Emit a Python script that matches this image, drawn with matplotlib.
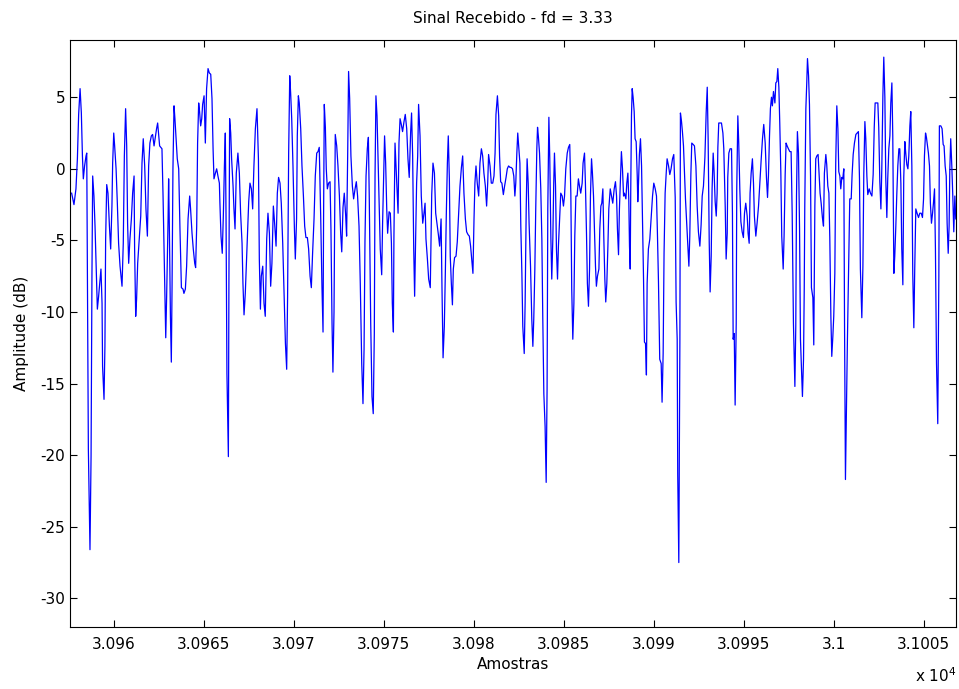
import matplotlib
matplotlib.use('Agg')
import matplotlib.pyplot as plt
from matplotlib.ticker import FuncFormatter
import numpy as np

# amostras (x) e amplitude em dB (y)
amostras = [
    30957.65, 30957.78, 30957.89, 30957.97, 30958.04, 30958.12, 30958.19, 30958.25, 30958.30, 30958.37,
    30958.45, 30958.49, 30958.52, 30958.58, 30958.67, 30958.73, 30958.78, 30958.82, 30958.89, 30958.95,
    30959.00, 30959.08, 30959.15, 30959.23, 30959.28, 30959.34, 30959.37, 30959.45, 30959.50, 30959.54,
    30959.60, 30959.67, 30959.75, 30959.82, 30959.89, 30959.93, 30959.99, 30960.04, 30960.12, 30960.19,
    30960.26, 30960.34, 30960.45, 30960.52, 30960.58, 30960.65, 30960.71, 30960.76, 30960.82, 30960.89,
    30960.97, 30961.04, 30961.12, 30961.15, 30961.21, 30961.26, 30961.32, 30961.39, 30961.49, 30961.56,
    30961.63, 30961.71, 30961.78, 30961.86, 30961.93, 30962.00, 30962.08, 30962.15, 30962.23, 30962.30,
    30962.37, 30962.43,
    30962.54, 30962.67, 30962.73, 30962.82, 30962.88, 30962.93, 30963.01, 30963.04, 30963.08, 30963.14,
    30963.19, 30963.23, 30963.28, 30963.34, 30963.39, 30963.47, 30963.52, 30963.60, 30963.67, 30963.75,
    30963.84, 30963.89, 30963.97, 30964.04, 30964.12, 30964.21, 30964.26, 30964.34, 30964.41, 30964.49,
    30964.54, 30964.60, 30964.65, 30964.71, 30964.76, 30964.82, 30964.88, 30964.93, 30965.01, 30965.08,
    30965.15, 30965.23, 30965.30, 30965.38, 30965.45, 30965.51, 30965.56, 30965.64, 30965.71, 30965.78,
    30965.86, 30965.89, 30965.95, 30966.02, 30966.08, 30966.14, 30966.19, 30966.23, 30966.28, 30966.36,
    30966.39, 30966.43, 30966.49, 30966.54, 30966.62, 30966.67, 30966.73, 30966.80, 30966.89, 30966.97,
    30967.04, 30967.12, 30967.17, 30967.23, 30967.30,
    30967.41, 30967.49, 30967.56, 30967.64, 30967.71, 30967.78, 30967.86, 30967.95, 30968.03, 30968.08,
    30968.14, 30968.19, 30968.27, 30968.34, 30968.41, 30968.49, 30968.56, 30968.64, 30968.71, 30968.78,
    30968.86, 30968.93, 30969.01, 30969.08, 30969.15, 30969.23, 30969.30, 30969.38, 30969.45, 30969.53,
    30969.60, 30969.65, 30969.71, 30969.77, 30969.82, 30969.88, 30969.95, 30970.03, 30970.08, 30970.15,
    30970.19, 30970.25, 30970.30, 30970.38, 30970.45, 30970.53, 30970.60, 30970.67, 30970.75, 30970.82,
    30970.90, 30970.97, 30971.04, 30971.12, 30971.19, 30971.27, 30971.34, 30971.41, 30971.49, 30971.56,
    30971.62, 30971.65, 30971.69, 30971.75, 30971.80, 30971.86, 30971.93, 30972.01, 30972.06, 30972.12,
    30972.17, 30972.23,
    30972.30, 30972.38, 30972.45, 30972.53, 30972.60, 30972.66, 30972.73, 30972.80, 30972.88, 30972.93,
    30972.99, 30973.04, 30973.10, 30973.17, 30973.25, 30973.32, 30973.40, 30973.47, 30973.54, 30973.62,
    30973.69, 30973.77, 30973.84, 30973.90, 30973.95, 30974.01, 30974.08, 30974.14, 30974.19, 30974.27,
    30974.34, 30974.41, 30974.47, 30974.51, 30974.56, 30974.62, 30974.67, 30974.73, 30974.80, 30974.88,
    30974.93, 30974.99, 30975.04, 30975.10, 30975.16, 30975.21, 30975.29, 30975.36, 30975.42, 30975.47,
    30975.53, 30975.56, 30975.62, 30975.67, 30975.73, 30975.79, 30975.84, 30975.90, 30975.97, 30976.04,
    30976.12, 30976.19, 30976.27, 30976.34, 30976.41, 30976.49, 30976.54, 30976.60, 30976.66, 30976.71,
    30976.77, 30976.82, 30976.88, 30976.93, 30977.01, 30977.08, 30977.16,
    30977.23, 30977.29, 30977.34, 30977.42, 30977.49, 30977.58, 30977.66, 30977.73, 30977.81, 30977.88,
    30977.95, 30978.03, 30978.10, 30978.18, 30978.23, 30978.29, 30978.36, 30978.42, 30978.47, 30978.53,
    30978.58, 30978.64, 30978.69, 30978.75, 30978.81, 30978.86, 30978.93, 30979.01, 30979.08, 30979.16,
    30979.23, 30979.31, 30979.38, 30979.45, 30979.53, 30979.60, 30979.68, 30979.75, 30979.82, 30979.90,
    30979.95, 30980.01, 30980.06, 30980.12, 30980.19, 30980.27, 30980.34, 30980.42, 30980.49, 30980.56,
    30980.64, 30980.71, 30980.77, 30980.82, 30980.90, 30980.97, 30981.05, 30981.12, 30981.18, 30981.23,
    30981.31, 30981.38, 30981.43, 30981.49, 30981.56, 30981.64, 30981.71, 30981.79, 30981.86, 30981.93,
    30982.01,
    30982.07, 30982.15, 30982.22, 30982.28, 30982.33, 30982.39, 30982.44, 30982.50, 30982.56, 30982.61,
    30982.67, 30982.72, 30982.80, 30982.85, 30982.91, 30982.96, 30983.02, 30983.07, 30983.15, 30983.22,
    30983.28, 30983.33, 30983.39, 30983.44, 30983.50, 30983.54, 30983.59, 30983.65, 30983.72, 30983.78,
    30983.83, 30983.89, 30983.96, 30984.02, 30984.07, 30984.11, 30984.17, 30984.22, 30984.28, 30984.33,
    30984.39, 30984.44, 30984.48, 30984.54, 30984.59, 30984.65, 30984.70, 30984.78, 30984.83, 30984.91,
    30984.98, 30985.04, 30985.11, 30985.19, 30985.26, 30985.33, 30985.39, 30985.44, 30985.50, 30985.56,
    30985.61, 30985.67, 30985.74, 30985.81, 30985.87, 30985.94, 30986.02, 30986.07, 30986.15, 30986.20,
    30986.26, 30986.31, 30986.37, 30986.43, 30986.48, 30986.54, 30986.59, 30986.65, 30986.70, 30986.76,
    30986.81, 30986.87,
    30986.95, 30987.00, 30987.06, 30987.11, 30987.17, 30987.22, 30987.28, 30987.33, 30987.39, 30987.45,
    30987.50, 30987.58, 30987.65, 30987.72, 30987.80, 30987.87, 30987.93, 30987.98, 30988.04, 30988.09,
    30988.15, 30988.20, 30988.26, 30988.32, 30988.37, 30988.45, 30988.50, 30988.56, 30988.61, 30988.65,
    30988.69, 30988.72, 30988.76, 30988.80, 30988.85, 30988.91, 30988.96, 30989.02, 30989.08, 30989.11,
    30989.15, 30989.20, 30989.26, 30989.32, 30989.37, 30989.43, 30989.48, 30989.54, 30989.59, 30989.63,
    30989.70, 30989.78, 30989.85, 30989.93, 30990.00, 30990.08, 30990.15, 30990.20, 30990.26, 30990.33,
    30990.41, 30990.46, 30990.52, 30990.57, 30990.63, 30990.69, 30990.74, 30990.82, 30990.89, 30990.96,
    30991.04, 30991.11, 30991.19, 30991.24, 30991.30, 30991.33, 30991.39, 30991.45, 30991.48, 30991.54,
    30991.59, 30991.65, 30991.70, 30991.76,
    30991.89, 30991.95, 30992.00, 30992.06, 30992.11, 30992.19, 30992.26, 30992.34, 30992.41, 30992.48,
    30992.56, 30992.63, 30992.69, 30992.76, 30992.84, 30992.91, 30992.97, 30993.02, 30993.08, 30993.13,
    30993.19, 30993.24, 30993.30, 30993.35, 30993.41, 30993.47, 30993.52, 30993.56, 30993.61, 30993.69,
    30993.76, 30993.84, 30993.89, 30993.97, 30994.02, 30994.08, 30994.11, 30994.17, 30994.24, 30994.32,
    30994.37, 30994.41, 30994.47, 30994.52, 30994.58, 30994.61, 30994.67, 30994.72, 30994.78, 30994.84,
    30994.91, 30994.98, 30995.04, 30995.11, 30995.19, 30995.24, 30995.30, 30995.35, 30995.41, 30995.48,
    30995.54, 30995.59, 30995.67, 30995.74, 30995.82, 30995.89, 30995.97, 30996.04, 30996.11, 30996.19,
    30996.26, 30996.32, 30996.37, 30996.43, 30996.48, 30996.54, 30996.59, 30996.65,
    30996.73, 30996.78, 30996.84, 30996.89, 30996.95, 30997.00, 30997.06, 30997.11, 30997.19, 30997.24,
    30997.30, 30997.35, 30997.41, 30997.48, 30997.56, 30997.63, 30997.69, 30997.76, 30997.84, 30997.89,
    30997.93, 30997.98, 30998.04, 30998.10, 30998.15, 30998.21, 30998.26, 30998.32, 30998.36, 30998.39,
    30998.45, 30998.50, 30998.54, 30998.60, 30998.65, 30998.71, 30998.76, 30998.84, 30998.89, 30998.95,
    30999.00, 30999.06, 30999.13, 30999.19, 30999.24, 30999.30, 30999.37, 30999.43, 30999.48, 30999.56,
    30999.61, 30999.67, 30999.73, 30999.78, 30999.84, 30999.89, 30999.95, 31000.00, 31000.06, 31000.11,
    31000.17, 31000.23, 31000.28, 31000.34, 31000.39, 31000.45, 31000.50, 31000.56, 31000.60, 31000.65,
    31000.71, 31000.76, 31000.84, 31000.89, 31000.97, 31001.02, 31001.08, 31001.15, 31001.23, 31001.30,
    31001.37, 31001.43, 31001.48, 31001.56,
    31001.62, 31001.67, 31001.73, 31001.78, 31001.84, 31001.89, 31001.97, 31002.04, 31002.12, 31002.19,
    31002.25, 31002.30, 31002.37, 31002.45, 31002.50, 31002.56, 31002.62, 31002.67, 31002.73, 31002.78,
    31002.84, 31002.89, 31002.95, 31003.00, 31003.06, 31003.12, 31003.17, 31003.23, 31003.28, 31003.34,
    31003.39, 31003.45, 31003.50, 31003.56, 31003.62, 31003.67, 31003.73, 31003.78, 31003.84, 31003.89,
    31003.95, 31004.00, 31004.06, 31004.12, 31004.17, 31004.23, 31004.28, 31004.34, 31004.39, 31004.45,
    31004.50, 31004.56, 31004.63, 31004.71, 31004.78, 31004.86, 31004.93, 31004.99, 31005.04, 31005.10,
    31005.15, 31005.21, 31005.26, 31005.32, 31005.37, 31005.43, 31005.49, 31005.54, 31005.60, 31005.65,
    31005.71, 31005.78, 31005.84, 31005.87, 31005.95, 31006.02, 31006.08, 31006.13, 31006.19, 31006.25,
    31006.30, 31006.36, 31006.41, 31006.45, 31006.50, 31006.56, 31006.62, 31006.67, 31006.73, 31006.78,
]

amplitude_db = [
    -1.7, -2.5, -1.4, 0.7, 3.8, 5.6, 3.9, 0.9, -0.7, 0.2,
    0.9, 1.1, -5.6, -19.6, -26.6, -20.1, -7.3, -0.5, -1.9, -4.0,
    -6.3, -9.8, -8.9, -7.7, -7.0, -9.4, -13.8, -16.1, -12.4, -4.9,
    -1.1, -1.7, -4.0, -5.6, -2.6, 0.4, 2.5, 1.6, 0.0, -2.4,
    -5.2, -6.8, -8.2, -5.2, 0.9, 4.2, 1.6, -3.8, -6.6, -4.9,
    -3.5, -1.7, -0.5, -5.6, -10.3, -9.1, -6.6, -5.2, -3.3, 0.4,
    2.1, 0.2, -2.8, -4.7, 0.2, 1.8, 2.3, 2.4, 1.6, 2.2,
    2.8, 3.2,
    1.6, 1.4, -1.9, -8.0, -11.8, -8.9, -3.5, -0.7, -4.0, -10.3,
    -13.5, -8.3, 0.0, 4.4, 3.5, 1.8, 0.7, 0.0, -4.2, -8.3,
    -8.4, -8.7, -8.4, -6.8, -3.5, -1.9, -2.8, -4.5, -5.6, -6.6,
    -6.9, -4.0, 1.8, 4.6, 4.0, 3.0, 3.5, 4.5, 5.1, 1.8,
    5.6, 7.0, 6.7, 6.6, 4.9, 1.4, -0.7, -0.3, 0.0, -0.5,
    -1.0, -2.4, -4.7, -5.9, -3.3, 0.2, 2.5, -3.3, -14.3, -20.1,
    -8.0, 3.5, 2.5, 0.7, -1.2, -2.8, -4.2, -0.3, 1.1, -0.3,
    -3.1, -5.2, -8.0, -10.2, -8.7,
    -4.9, -2.3, -1.0, -1.4, -2.8, 0.2, 2.8, 4.2, 0.7, -6.3,
    -9.8, -7.5, -6.8, -9.4, -10.3, -4.9, -3.1, -4.5, -8.2, -6.6,
    -2.6, -3.8, -5.4, -1.7, -0.6, -1.0, -2.4, -5.2, -8.4, -12.2,
    -14.0, -9.0, 1.1, 6.5, 5.3, 3.5, 0.2, -4.2, -6.3, -3.5,
    2.3, 5.1, 4.6, 2.8, 0.2, -1.9, -4.0, -4.8, -4.8, -5.6,
    -7.5, -8.3, -5.9, -3.5, -0.5, 1.1, 1.2, 1.5, -3.3, -8.2,
    -11.4, -3.5, 4.5, 2.9, 0.0, -1.4, -1.0, -0.9, -4.2, -10.8,
    -14.2, -10.0,
    2.4, 1.6, 0.2, -1.9, -4.5, -5.8, -2.7, -1.7, -3.3, -4.7,
    1.0, 6.8, 4.9, 0.9, -1.2, -2.1, -1.4, -0.9, -1.9, -4.0,
    -8.0, -13.6, -16.4, -12.6, -5.1, -0.5, 1.4, 2.2, -2.1, -10.8,
    -15.9, -17.1, -11.5, -0.5, 5.1, 3.7, 1.1, -1.9, -5.6, -7.4,
    -3.8, -0.3, 2.3, 0.4, -2.8, -4.5, -3.0, -3.1, -5.2, -9.4,
    -11.4, -4.7, 1.8, 0.4, -1.4, -3.1, 1.8, 3.5, 3.1, 2.6,
    3.3, 3.8, 2.8, 0.7, -0.6, 2.6, 3.9, 0.9, -5.6, -8.9,
    -4.4, -1.0, 0.9, 4.5, 2.3, -1.9, -3.8,
    -3.1, -2.4, -4.9, -6.3, -7.7, -8.3, -1.8, 0.4, -0.3, -3.1,
    -3.8, -4.6, -5.4, -3.5, -8.3, -13.2, -11.0, -7.0, -3.2, 0.4,
    2.3, -0.7, -6.1, -8.0, -9.5, -7.0, -6.2, -6.1, -5.1, -3.1,
    -1.2, 0.1, 0.9, -1.7, -3.5, -4.4, -4.6, -4.7, -5.4, -6.6,
    -7.3, -3.5, -1.0, 0.2, -1.0, -1.9, 0.4, 1.4, 0.9, -0.3,
    -1.2, -2.6, -1.0, 1.0, 0.2, -1.0, -1.0, -0.5, 1.1, 3.8,
    5.1, 3.7, 0.9, -0.9, -1.0, -1.8, -1.2, -0.6, 0.0, 0.2,
    0.1,
    0.1, 0.0, -0.5, -1.9, -1.0, 1.1, 2.5, 1.4, 0.4, -4.0,
    -7.3, -11.0, -12.9, -9.4, -2.8, 0.7, -1.0, -3.8, -6.8, -10.5,
    -12.4, -10.5, -7.0, -2.8, 1.4, 2.9, 2.2, 1.1, -1.4, -4.9,
    -10.3, -15.7, -18.0, -21.9, -15.4, -2.8, 3.6, 0.7, -4.8, -7.7,
    -4.9, -1.0, 1.1, -1.2, -5.6, -7.7, -5.4, -3.1, -1.7, -1.9,
    -2.6, -1.9, 0.0, 1.1, 1.5, 1.7, -1.7, -8.4, -11.9, -9.4,
    -4.7, -1.9, -1.9, -0.7, -1.2, -1.7, -1.0, 0.4, 1.1, -1.0,
    -4.5, -8.0, -9.6, -7.0, -1.9, 0.7, -0.3, -1.9, -4.2, -6.8,
    -8.2, -7.5,
    -7.0, -4.2, -2.6, -2.4, -1.4, -4.7, -7.7, -9.3, -8.0, -5.4,
    -2.8, -1.4, -1.9, -2.4, -1.4, -0.9, -1.9, -4.2, -6.0, -2.8,
    -0.6, 1.2, 0.0, -1.9, -1.7, -2.1, -1.0, -0.3, -2.1, -5.4,
    -7.0, -1.4, 3.7, 5.6, 5.0, 4.0, 2.1, 1.9, -0.5, -2.3,
    -1.0, 1.0, 2.1, 0.2, -3.5, -7.7, -12.1, -12.2, -14.4, -8.0,
    -5.6, -4.9, -3.5, -1.9, -1.0, -1.4, -1.9, -4.4, -7.9, -13.3,
    -13.6, -16.3, -12.9, -5.9, -1.7, -0.3, 0.7, 0.2, -0.4, 0.0,
    0.7, 1.0, -2.0, -9.3, -11.9, -21.3, -27.5, -11.9, 3.9, 3.3,
    2.6, 1.6, 0.0, -2.1,
    -5.4, -6.8, -4.7, -0.4, 1.8, 1.7, 1.6, 0.2, -2.6, -4.4,
    -5.4, -3.9, -1.9, -1.2, 0.8, 3.9, 5.7, 2.1, -5.1, -8.6,
    -6.1, -1.4, 1.1, -0.2, -2.3, -3.3, -1.7, 1.5, 3.2, 3.2,
    3.2, 2.5, 1.4, -2.7, -6.3, -4.5, -0.6, 1.1, 1.4, 1.4,
    -3.1, -11.9, -11.5, -16.5, -10.8, -1.4, 3.7, 1.8, -1.4, -3.7,
    -4.4, -4.8, -3.1, -2.4, -3.3, -4.5, -5.2, -1.7, -0.3, 0.7,
    -1.0, -3.3, -4.7, -3.8, -2.6, -1.0, 0.7, 2.1, 3.1, 1.8,
    -0.6, -2.0, -0.5, 2.3, 4.2, 5.0, 4.4, 5.4,
    4.6, 6.0, 6.1, 7.0, 5.7, 3.2, -0.3, -4.7, -7.0, -4.7,
    -0.4, 1.8, 1.6, 1.4, 1.2, 1.2, -3.1, -10.8, -15.2, -11.0,
    -1.9, 2.6, 1.1, -4.2, -11.9, -14.0, -15.9, -13.3, -8.4, -2.6,
    4.2, 6.0, 7.7, 6.5, 4.5, -0.5, -8.3, -9.0, -12.3, -2.6,
    0.7, 0.9, 1.0, -0.4, -1.7, -2.4, -3.4, -4.0, -0.3, 1.0,
    0.3, -1.2, -1.7, -4.8, -10.3, -13.1, -11.7, -10.3, -7.3, 0.4,
    4.4, 2.8, -0.2, -0.5, -1.4, -0.6, -0.7, 0.0, -11.0, -21.7,
    -16.6, -11.9, -6.1, -2.1, -2.1, -0.4, 1.0, 1.8, 2.4, 2.5,
    2.6, -0.7, -7.0, -10.4,
    -6.8, -0.3, 3.3, 2.1, -0.5, -1.8, -1.4, -1.7, -1.9, -0.4,
    2.9, 4.6, 4.6, 4.6, 2.9, -0.9, -2.8, 0.0, 5.1, 7.8,
    5.0, -0.6, -3.4, -0.7, 1.4, 2.3, 4.6, 6.0, 2.3, -7.3,
    -6.1, -4.0, -1.9, 0.2, 1.4, 1.4, -1.0, -5.6, -8.1, -0.6,
    1.9, 1.1, 0.3, 0.0, 0.9, 3.0, 4.0, 0.2, -7.3, -11.1,
    -7.0, -2.8, -3.1, -3.4, -3.1, -3.1, -3.4, -2.1, 0.9, 2.5,
    2.2, 1.6, 1.1, 0.2, -2.4, -3.8, -3.1, -2.4, -1.4, -5.6,
    -13.6, -17.8, -7.5, 3.0, 3.0, 2.8, 1.7, 1.6, 0.2, -0.5,
    -3.8, -5.9, -4.0, 0.0, 2.1, 0.2, -2.1, -4.4, -1.9, -3.5,
]

x_ticks = [30960, 30965, 30970, 30975, 30980, 30985, 30990, 30995, 31000, 31005]
y_ticks = [-30, -25, -20, -15, -10, -5, 0, 5]

plt.rcParams['font.family'] = 'DejaVu Sans'
plt.rcParams['font.size'] = 11
plt.rcParams['axes.unicode_minus'] = False

fig = plt.figure(figsize=(9.59, 6.89), dpi=100)
ax = fig.add_axes([0.073, 0.09, 0.924, 0.852])

ax.plot(amostras, amplitude_db, color='blue', linewidth=0.9)

ax.set_xlim(30957.56, 31006.8)
ax.set_ylim(-32, 9)
ax.set_xticks(x_ticks)
ax.set_yticks(y_ticks)
ax.xaxis.set_major_formatter(FuncFormatter(lambda v, pos: '%g' % (v / 1e4)))
ax.tick_params(direction='in', top=True, right=True, length=5, width=0.8)
ax.tick_params(axis='x', pad=7)
for s in ax.spines.values():
    s.set_linewidth(0.8)

ax.set_title('Sinal Recebido - fd = 3.33', fontsize=11, pad=12)
ax.set_xlabel('Amostras', fontsize=11, labelpad=4)
ax.set_ylabel('Amplitude (dB)', fontsize=11, labelpad=8)
fig.text(0.997, 0.006, r'x 10$^{4}$', ha='right', va='bottom', fontsize=11)

fig.savefig('out.png', dpi=100)
